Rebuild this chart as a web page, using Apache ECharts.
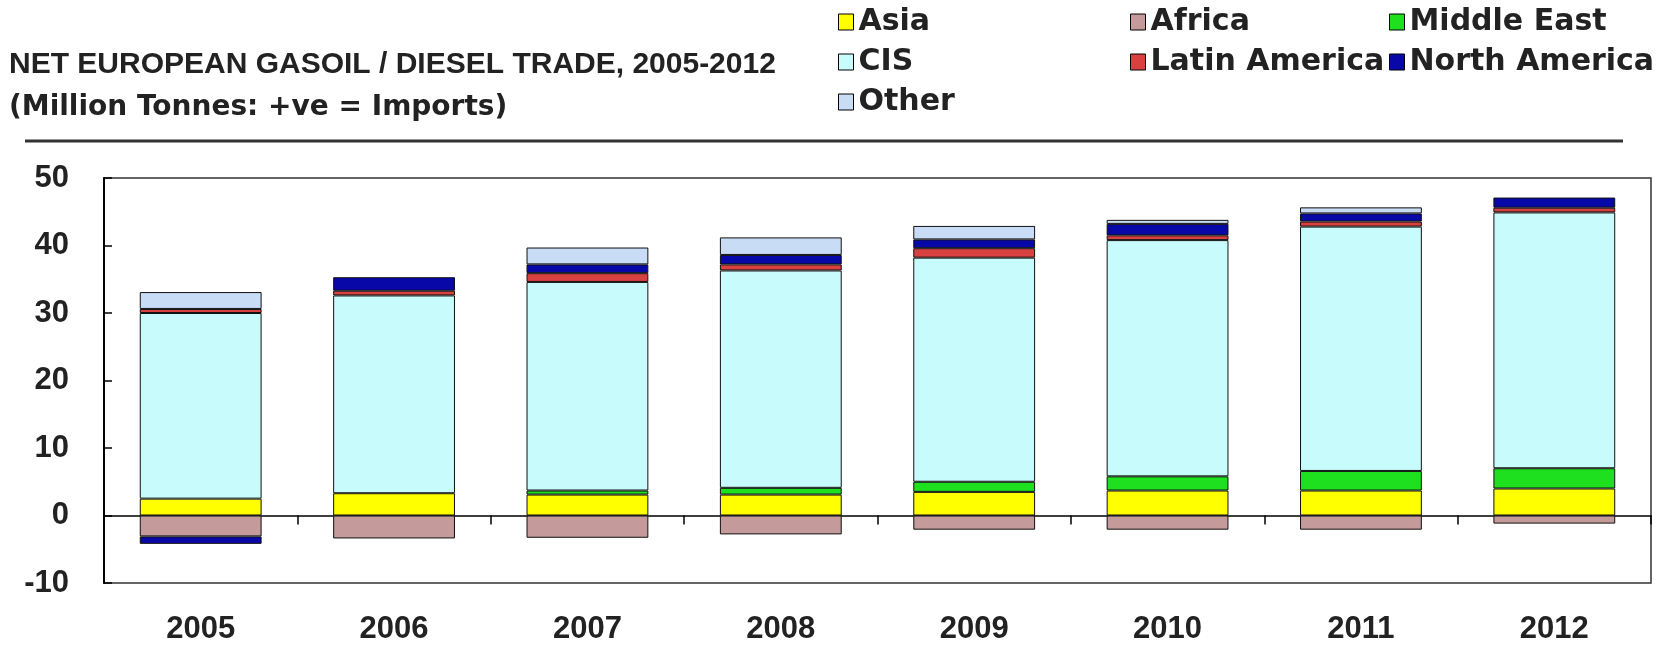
<!DOCTYPE html>
<html>
<head>
<meta charset="utf-8">
<script src="https://cdn.jsdelivr.net/npm/echarts@6/dist/echarts.min.js"></script>
<style>
  html, body { margin: 0; padding: 0; background: #ffffff; }
  #chart { width: 1675px; height: 645px; }
</style>
</head>
<body>
<div id="chart"></div>
<script>
// ---- data (Million Tonnes; +ve = imports) ----
const years = ['2005', '2006', '2007', '2008', '2009', '2010', '2011', '2012'];
const asia = [2.5, 3.3, 3.1, 3.1, 3.5, 3.7, 3.7, 4.0];
const africa = [-3.1, -3.4, -3.3, -2.8, -2.1, -2.1, -2.1, -1.2];
const middleEast = [0, 0, 0.6, 1.0, 1.5, 2.1, 2.9, 3.0];
const cis = [27.5, 29.3, 30.9, 32.2, 33.2, 35.0, 36.2, 37.9];
const latinAmerica = [0.6, 0.7, 1.3, 0.9, 1.4, 0.7, 0.75, 0.7];
const northAmerica = [-1.1, 2.0, 1.3, 1.4, 1.3, 1.7, 1.2, 1.5];
const other = [2.5, 0, 2.5, 2.6, 2.0, 0.6, 0.9, 0];
const yTicks = { min: -10, max: 50, interval: 10 };

const titleText = 'NET EUROPEAN GASOIL / DIESEL TRADE, 2005-2012';
const subtitleText = '(Million Tonnes: +ve = Imports)';

const seriesDefs = [
  { name: 'Asia', data: asia, color: '#FFFF00' },
  { name: 'Africa', data: africa, color: '#C49A9A' },
  { name: 'Middle East', data: middleEast, color: '#1EE01E' },
  { name: 'CIS', data: cis, color: '#C8FCFC' },
  { name: 'Latin America', data: latinAmerica, color: '#D94040' },
  { name: 'North America', data: northAmerica, color: '#0808A8' },
  { name: 'Other', data: other, color: '#C8DCF5' }
];

const chart = echarts.init(document.getElementById('chart'), null, { renderer: 'canvas' });

const legendText = { fontFamily: 'DejaVu Sans', fontWeight: 'bold', fontSize: 30, color: '#222' };
function legendAt(names, left) {
  return {
    data: names, orient: 'vertical', left: left, top: 7, padding: 0,
    itemWidth: 15, itemHeight: 16, itemGap: 10, icon: 'rect',
    itemStyle: { borderColor: '#000', borderWidth: 1 },
    textStyle: legendText, selectedMode: false
  };
}

const option = {
  animation: false,
  backgroundColor: '#ffffff',
  title: [
    { text: titleText, left: 9, top: 50, padding: 0,
      textStyle: { fontFamily: 'Liberation Sans', fontSize: 30, fontWeight: 'bold', color: '#222' } },
    { text: subtitleText, left: 9, top: 94, padding: 0,
      textStyle: { fontFamily: 'DejaVu Sans', fontSize: 28, fontWeight: 'bold', color: '#222' } }
  ],
  legend: [
    legendAt(['Asia', 'CIS', 'Other'], 838),
    legendAt(['Africa', 'Latin America'], 1130),
    legendAt(['Middle East', 'North America'], 1389)
  ],
  graphic: [
    { type: 'line', shape: { x1: 25, y1: 141, x2: 1623, y2: 141 },
      style: { stroke: '#333', lineWidth: 3 } }
  ],
  grid: { left: 104, right: 24, top: 178, bottom: 59, show: true,
          borderColor: '#333', borderWidth: 1.5 },
  xAxis: [
    { type: 'category', data: years, position: 'bottom',
      axisLine: { onZero: true, lineStyle: { color: '#000', width: 1.5 } },
      axisTick: { show: true, length: 9, lineStyle: { color: '#000', width: 1.5 } },
      axisLabel: { show: false } },
    { type: 'category', data: years, position: 'bottom',
      axisLine: { show: false, onZero: false },
      axisTick: { show: false },
      axisLabel: { show: true, margin: 31, fontFamily: 'Liberation Sans', fontWeight: 'bold',
                   fontSize: 31, color: '#222' } }
  ],
  yAxis: {
    type: 'value', min: yTicks.min, max: yTicks.max, interval: yTicks.interval,
    axisLine: { show: true, lineStyle: { color: '#000', width: 2 } },
    axisTick: { show: true, inside: true, length: 8, lineStyle: { color: '#000', width: 1.5 } },
    axisLabel: { margin: 35, fontFamily: 'Liberation Sans', fontWeight: 'bold', fontSize: 31, color: '#222' },
    splitLine: { show: false }
  },
  series: seriesDefs.map(s => ({
    name: s.name, type: 'bar', stack: 'trade', xAxisIndex: 0,
    barWidth: '63%',
    data: s.data.map(v => (v === 0 ? '-' : v)),
    itemStyle: { color: s.color, borderColor: '#111', borderWidth: 1 }
  }))
};

chart.setOption(option);
</script>
</body>
</html>
